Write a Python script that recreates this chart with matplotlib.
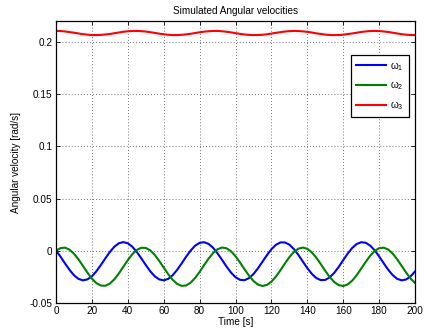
import numpy as np
import matplotlib
matplotlib.use("Agg")
import matplotlib.pyplot as plt

# time samples (s), every 2.5 s
time_s = np.arange(0, 200.01, 2.5)

# angular velocities (rad/s)
omega_1 = [
    0.0002, -0.0056, -0.0121, -0.0182, -0.0234, -0.0269, -0.0283, -0.0274, -0.0244, -0.0196,
    -0.0136, -0.0072, -0.0011, 0.0039, 0.0072, 0.0083, 0.0072, 0.0039, -0.0011, -0.0072,
    -0.0136, -0.0196, -0.0244, -0.0274, -0.0283, -0.0269, -0.0234, -0.0182, -0.0121, -0.0056,
    0.0002, 0.0049, 0.0076, 0.0082, 0.0066, 0.0029, -0.0025, -0.0087, -0.0151, -0.0209,
    -0.0253, -0.0278, -0.0282, -0.0262, -0.0223, -0.0168, -0.0105, -0.0042, 0.0015, 0.0057,
    0.0080, 0.0080, 0.0059, 0.0017, -0.0039, -0.0103, -0.0166, -0.0221, -0.0261, -0.0281,
    -0.0279, -0.0254, -0.0211, -0.0154, -0.0090, -0.0027, 0.0027, 0.0065, 0.0082, 0.0077,
    0.0050, 0.0005, -0.0054, -0.0118, -0.0180, -0.0232, -0.0268, -0.0283, -0.0275, -0.0246,
    -0.0198,
]
omega_2 = [
    0.0000, 0.0026, 0.0030, 0.0011, -0.0028, -0.0082, -0.0145, -0.0209, -0.0267, -0.0310,
    -0.0333, -0.0335, -0.0314, -0.0273, -0.0217, -0.0153, -0.0089, -0.0033, 0.0008, 0.0029,
    0.0027, 0.0004, -0.0039, -0.0097, -0.0161, -0.0224, -0.0278, -0.0317, -0.0336, -0.0332,
    -0.0305, -0.0260, -0.0202, -0.0137, -0.0075, -0.0022, 0.0015, 0.0031, 0.0024, -0.0005,
    -0.0052, -0.0112, -0.0176, -0.0238, -0.0289, -0.0324, -0.0337, -0.0327, -0.0296, -0.0247,
    -0.0187, -0.0122, -0.0061, -0.0012, 0.0020, 0.0031, 0.0019, -0.0015, -0.0066, -0.0127,
    -0.0192, -0.0252, -0.0299, -0.0329, -0.0337, -0.0322, -0.0286, -0.0234, -0.0171, -0.0107,
    -0.0048, -0.0002, 0.0025, 0.0030, 0.0013, -0.0026, -0.0080, -0.0143, -0.0207, -0.0265,
    -0.0308,
]
omega_3 = [
    0.2105, 0.2104, 0.2100, 0.2094, 0.2088, 0.2081, 0.2074, 0.2069, 0.2066, 0.2065,
    0.2067, 0.2071, 0.2076, 0.2083, 0.2090, 0.2097, 0.2102, 0.2104, 0.2105, 0.2103,
    0.2099, 0.2093, 0.2086, 0.2079, 0.2073, 0.2068, 0.2065, 0.2065, 0.2068, 0.2072,
    0.2078, 0.2085, 0.2092, 0.2098, 0.2102, 0.2105, 0.2105, 0.2102, 0.2097, 0.2091,
    0.2084, 0.2077, 0.2071, 0.2067, 0.2065, 0.2066, 0.2068, 0.2073, 0.2080, 0.2087,
    0.2093, 0.2099, 0.2103, 0.2105, 0.2104, 0.2101, 0.2096, 0.2090, 0.2082, 0.2076,
    0.2070, 0.2066, 0.2065, 0.2066, 0.2069, 0.2075, 0.2081, 0.2088, 0.2095, 0.2100,
    0.2104, 0.2105, 0.2104, 0.2100, 0.2095, 0.2088, 0.2081, 0.2074, 0.2069, 0.2066,
    0.2065,
]

series_labels = [r"$\omega_1$", r"$\omega_2$", r"$\omega_3$"]
series_colors = ["#0000ff", "#008000", "#ff0000"]

x_ticks = list(range(0, 201, 20))
y_ticks = [-0.05, 0, 0.05, 0.1, 0.15, 0.2]
y_tick_labels = ["-0.05", "0", "0.05", "0.1", "0.15", "0.2"]

plt.rcParams["font.family"] = ["Liberation Sans", "DejaVu Sans"]
plt.rcParams["mathtext.fontset"] = "custom"
plt.rcParams["mathtext.rm"] = "Liberation Sans"
plt.rcParams["mathtext.it"] = "Liberation Sans"
fs = 7.2

fig = plt.figure(figsize=(4.25, 3.34), dpi=100)
ax = fig.add_axes([0.1318, 0.0928, 0.8447, 0.8443])

for vals, lbl, col in zip([omega_1, omega_2, omega_3], series_labels, series_colors):
    ax.plot(time_s, vals, color=col, lw=1.5, label=lbl)

ax.set_xlim(0, 200)
ax.set_ylim(-0.05, 0.22)
ax.set_xticks(x_ticks)
ax.set_yticks(y_ticks)
ax.set_yticklabels(y_tick_labels)
ax.tick_params(direction="in", top=True, right=True, labelsize=fs,
               length=3, width=0.6, pad=2.5)
for sp in ax.spines.values():
    sp.set_linewidth(0.9)
ax.grid(True, linestyle=(0, (1, 3)), color="#222222", lw=0.55)

ax.set_title("Simulated Angular velocities", fontsize=fs, pad=5)
ax.set_xlabel("Time [s]", fontsize=fs, labelpad=0.5)
ax.set_ylabel("Angular velocity [rad/s]", fontsize=fs, labelpad=6)

leg = ax.legend(loc="upper right", bbox_to_anchor=(0.983, 0.880), borderaxespad=0,
                fontsize=fs, handlelength=3.0, labelspacing=0.7, handletextpad=0.4,
                borderpad=0.5, fancybox=False, framealpha=1, edgecolor="black")
leg.get_frame().set_linewidth(0.9)

fig.savefig("out.png", dpi=100)
